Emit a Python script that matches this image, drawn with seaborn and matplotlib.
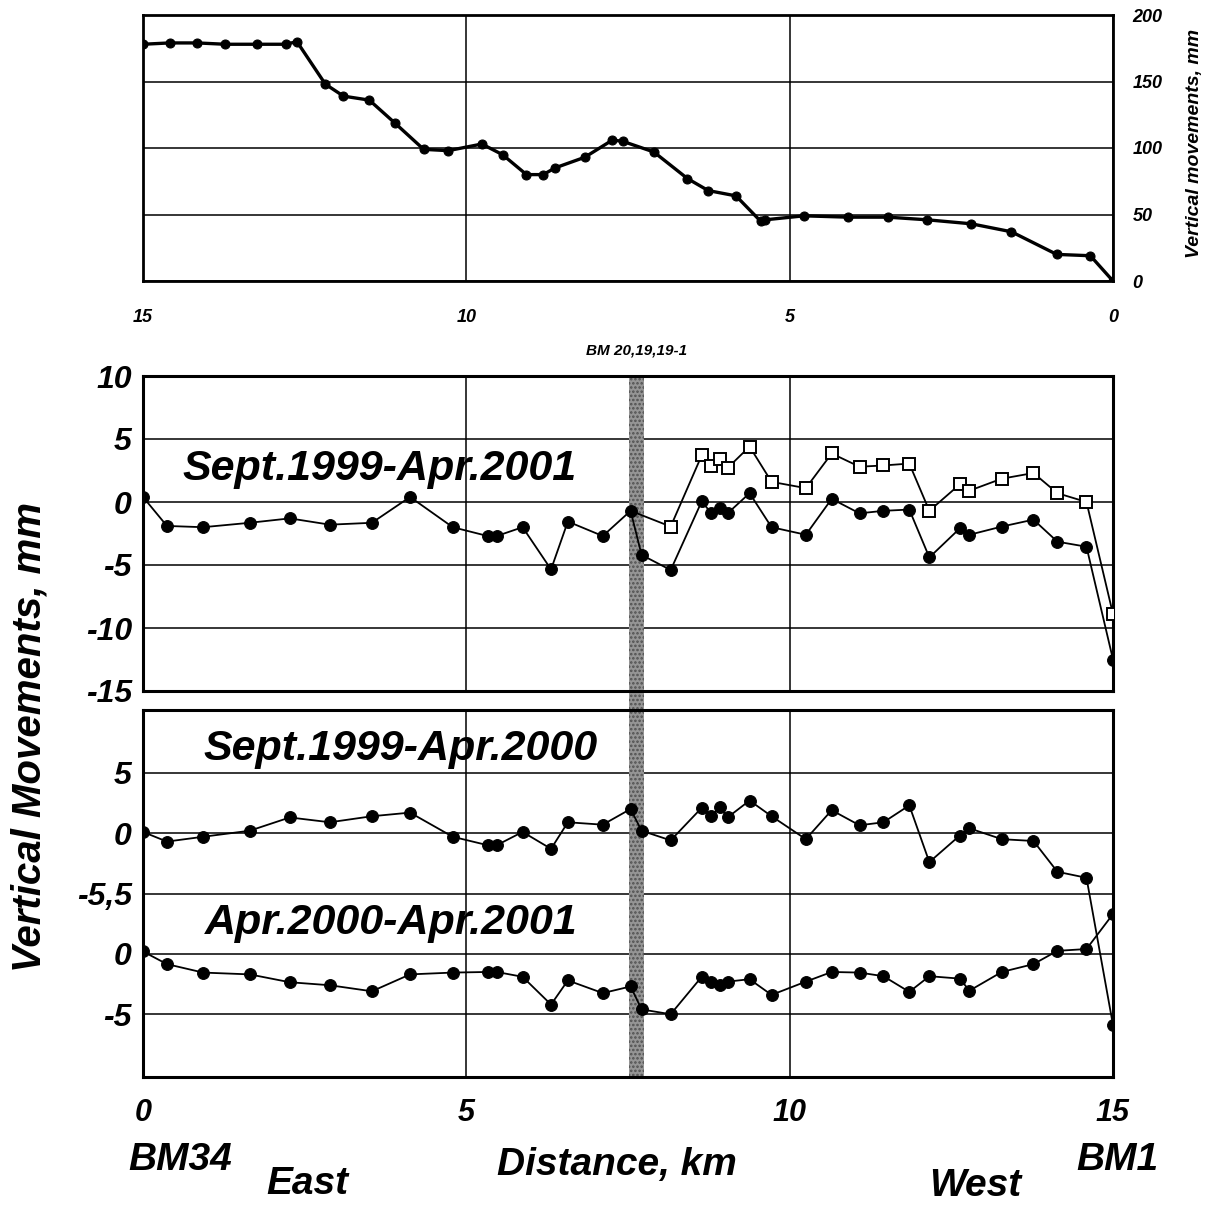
import matplotlib
matplotlib.use("Agg")
import matplotlib.pyplot as plt
import seaborn as sns

# ---------------- data ----------------
# top panel: cumulative vertical movements (mm) vs distance (km, reversed axis)
top_km = [15.0, 14.59, 14.16, 13.73, 13.23, 12.79, 12.62, 12.18, 11.9, 11.5, 11.11,
          10.66, 10.28, 9.76, 9.44, 9.07, 8.81, 8.63, 8.17, 7.74, 7.58, 7.1, 6.58,
          6.26, 5.83, 5.45, 5.38, 4.78, 4.1, 3.48, 2.87, 2.19, 1.57, 0.87, 0.35, 0.0]
top_mm = [178, 179, 179, 178, 178, 178, 180, 148, 139, 136, 119,
          99, 98, 103, 95, 80, 80, 85, 93, 106, 105, 97, 77,
          68, 64, 45, 46, 49, 48, 48, 46, 43, 37, 20, 19, 0]

# benchmark stations (km from BM34)
station_km = [0.0, 0.37, 0.93, 1.65, 2.27, 2.89, 3.54, 4.13, 4.79, 5.33, 5.47, 5.87,
              6.31, 6.57, 7.11, 7.54, 7.71, 8.16, 8.64, 8.79, 8.92, 9.04, 9.38, 9.72,
              10.25, 10.65, 11.08, 11.45, 11.85, 12.16, 12.63, 12.78, 13.28, 13.77,
              14.14, 14.59, 15.0]

# Sept.1999 - Apr.2001 (filled circles)
sep99_apr01 = [0.4, -1.9, -2.0, -1.65, -1.3, -1.8, -1.65, 0.4, -2.0, -2.7, -2.7, -2.0,
               -5.35, -1.55, -2.7, -0.7, -4.2, -5.4, 0.05, -0.9, -0.5, -0.9, 0.7, -2.0,
               -2.6, 0.25, -0.9, -0.7, -0.6, -4.4, -2.1, -2.6, -1.95, -1.4,
               -3.15, -3.55, -12.5]

# Sept.1999 - Apr.2001 (open squares, western section)
open_km = [7.54, 8.16, 8.64, 8.79, 8.92, 9.04, 9.38, 9.72, 10.25, 10.65, 11.08,
           11.45, 11.85, 12.16, 12.63, 12.78, 13.28, 13.77, 14.14, 14.59, 15.0]
open_mm = [-0.7, -1.95, 3.7, 2.85, 3.4, 2.7, 4.4, 1.6, 1.1, 3.85, 2.8,
           2.9, 3.05, -0.7, 1.4, 0.9, 1.85, 2.3, 0.7, 0.0, -8.9]

# Sept.1999 - Apr.2000
sep99_apr00 = [0.1, -0.7, -0.3, 0.2, 1.3, 0.9, 1.4, 1.7, -0.3, -1.0, -1.0, 0.1,
               -1.3, 0.9, 0.7, 2.0, 0.2, -0.6, 2.1, 1.45, 2.15, 1.3, 2.7, 1.4,
               -0.5, 1.9, 0.65, 0.9, 2.3, -2.4, -0.2, 0.4, -0.5, -0.65,
               -3.2, -3.7, -15.9]

# Apr.2000 - Apr.2001
apr00_apr01 = [0.2, -0.85, -1.55, -1.7, -2.35, -2.6, -3.1, -1.7, -1.55, -1.5, -1.5, -1.9,
               -4.2, -2.2, -3.25, -2.7, -4.6, -5.0, -1.9, -2.3, -2.6, -2.3, -2.1, -3.4,
               -2.3, -1.5, -1.55, -1.85, -3.15, -1.85, -2.05, -3.05, -1.5, -0.85,
               0.25, 0.4, 3.3]

bm_zone_km = [7.52, 7.75]
top_xticks = [15, 10, 5, 0]
top_yticks = [0, 50, 100, 150, 200]
mid_yticks = [10, 5, 0, -5, -10, -15]
bot_yticks = [5, 0, -5, -10, -15]
bot_ylabels = ["5", "0", "-5,5", "0", "-5"]
dist_ticks = [0, 5, 10, 15]
LOWER_OFFSET = -10

# ---------------- style ----------------
sns.set_style("white")
plt.rcParams['font.family'] = ['Liberation Sans', 'DejaVu Sans']
plt.rcParams['hatch.linewidth'] = 1.2
plt.rcParams['text.color'] = 'black'
plt.rcParams['xtick.color'] = 'black'
plt.rcParams['ytick.color'] = 'black'
plt.rcParams['axes.labelcolor'] = 'black'

W, H = 1209, 1205
fig = plt.figure(figsize=(W / 100, H / 100), dpi=100)


def rect(l, t, r, b):
    return [l / W, 1 - b / H, (r - l) / W, (b - t) / H]


ax_top = fig.add_axes(rect(143, 15, 1113, 281))
ax_mid = fig.add_axes(rect(143, 376, 1113, 691))
ax_bot = fig.add_axes(rect(143, 710, 1113, 1077))

BI = dict(fontstyle='italic', fontweight='bold', color='black')


def frame(ax, lw=2.2):
    for s in ax.spines.values():
        s.set_visible(True)
        s.set_color('black')
        s.set_linewidth(lw)
    ax.grid(True, color='black', lw=1.1)
    ax.set_axisbelow(True)
    ax.tick_params(length=0, colors='black')


# ---------------- top panel ----------------
sns.lineplot(x=top_km, y=top_mm, ax=ax_top, color='black', lw=2.4, marker='o',
             markersize=6.5, markeredgecolor='black', sort=False, estimator=None)
ax_top.set_xlim(15, 0)
ax_top.set_ylim(0, 200)
ax_top.set_xticks(top_xticks)
ax_top.set_xticklabels([str(t) for t in top_xticks], fontsize=13, **BI)
ax_top.yaxis.tick_right()
ax_top.set_yticks(top_yticks)
ax_top.set_yticklabels([str(t) for t in top_yticks], fontsize=13, **BI)
frame(ax_top, 2.0)
ax_top.tick_params(axis='x', pad=20)
ax_top.tick_params(axis='y', pad=14)
fig.text(1195 / W, 1 - 143 / H, "Vertical movements, mm", rotation=90,
         ha='center', va='center', fontsize=14, **BI)

# ---------------- middle panel ----------------
sns.lineplot(x=open_km, y=open_mm, ax=ax_mid, color='black', lw=1.3, marker='s',
             markersize=8.5, markerfacecolor='white', markeredgecolor='black',
             markeredgewidth=1.4, markevery=list(range(1, len(open_km))),
             sort=False, estimator=None, zorder=3)
sns.lineplot(x=station_km, y=sep99_apr01, ax=ax_mid, color='black', lw=1.3, marker='o',
             markersize=8.5, markeredgecolor='black', sort=False, estimator=None, zorder=4)
ax_mid.set_xlim(0, 15)
ax_mid.set_ylim(-15, 10)
ax_mid.set_xticks(dist_ticks)
ax_mid.set_xticklabels([])
ax_mid.set_yticks(mid_yticks)
ax_mid.set_yticklabels([str(t) for t in mid_yticks], fontsize=23, **BI)
frame(ax_mid)
ax_mid.tick_params(axis='y', pad=8)
ax_mid.text(0.244, 0.705, "Sept.1999-Apr.2001", transform=ax_mid.transAxes,
            ha='center', va='center', fontsize=31, **BI)
ax_mid.axvspan(bm_zone_km[0], bm_zone_km[1], ymin=-19 / 315, ymax=1, clip_on=False,
               facecolor='#959595', edgecolor='#505050', hatch='....', lw=0, zorder=2)
ax_mid.text(sum(bm_zone_km) / 2, 1.08, "BM 20,19,19-1", transform=ax_mid.get_xaxis_transform(),
            ha='center', va='center', fontsize=11, **BI)

# ---------------- bottom panel ----------------
lower_shifted = [v + LOWER_OFFSET for v in apr00_apr01]
sns.lineplot(x=station_km, y=sep99_apr00, ax=ax_bot, color='black', lw=1.3, marker='o',
             markersize=8.5, markeredgecolor='black', sort=False, estimator=None, zorder=4)
sns.lineplot(x=station_km, y=lower_shifted, ax=ax_bot, color='black', lw=1.3, marker='o',
             markersize=8.5, markeredgecolor='black', sort=False, estimator=None, zorder=4)
ax_bot.set_xlim(0, 15)
ax_bot.set_ylim(-20.2, 10.2)
ax_bot.set_xticks(dist_ticks)
ax_bot.set_xticklabels([str(t) for t in dist_ticks], fontsize=22, **BI)
ax_bot.set_yticks(bot_yticks)
ax_bot.set_yticklabels(bot_ylabels, fontsize=23, **BI)
frame(ax_bot)
ax_bot.tick_params(axis='y', pad=8)
ax_bot.tick_params(axis='x', pad=15)
ax_bot.axvspan(bm_zone_km[0], bm_zone_km[1], facecolor='#959595', edgecolor='#505050',
               hatch='....', lw=0, zorder=2)
ax_bot.text(0.265, 0.894, "Sept.1999-Apr.2000", transform=ax_bot.transAxes,
            ha='center', va='center', fontsize=31, **BI)
ax_bot.text(0.256, 0.42, "Apr.2000-Apr.2001", transform=ax_bot.transAxes,
            ha='center', va='center', fontsize=31, **BI)

for ax in (ax_top, ax_mid, ax_bot):
    ax.set_xlabel("")
    ax.set_ylabel("")

# ---------------- outer labels ----------------
fig.text(30 / W, 1 - 737 / H, "Vertical Movements, mm", rotation=90,
         ha='center', va='center', fontsize=29, **BI)
fig.text(180 / W, 1 - 1160 / H, "BM34", ha='center', va='center', fontsize=28, **BI)
fig.text(307 / W, 1 - 1184 / H, "East", ha='center', va='center', fontsize=28, **BI)
fig.text(617 / W, 1 - 1165 / H, "Distance, km", ha='center', va='center', fontsize=28, **BI)
fig.text(975 / W, 1 - 1186 / H, "West", ha='center', va='center', fontsize=28, **BI)
fig.text(1117 / W, 1 - 1160 / H, "BM1", ha='center', va='center', fontsize=28, **BI)

fig.savefig("out.png", dpi=100)
